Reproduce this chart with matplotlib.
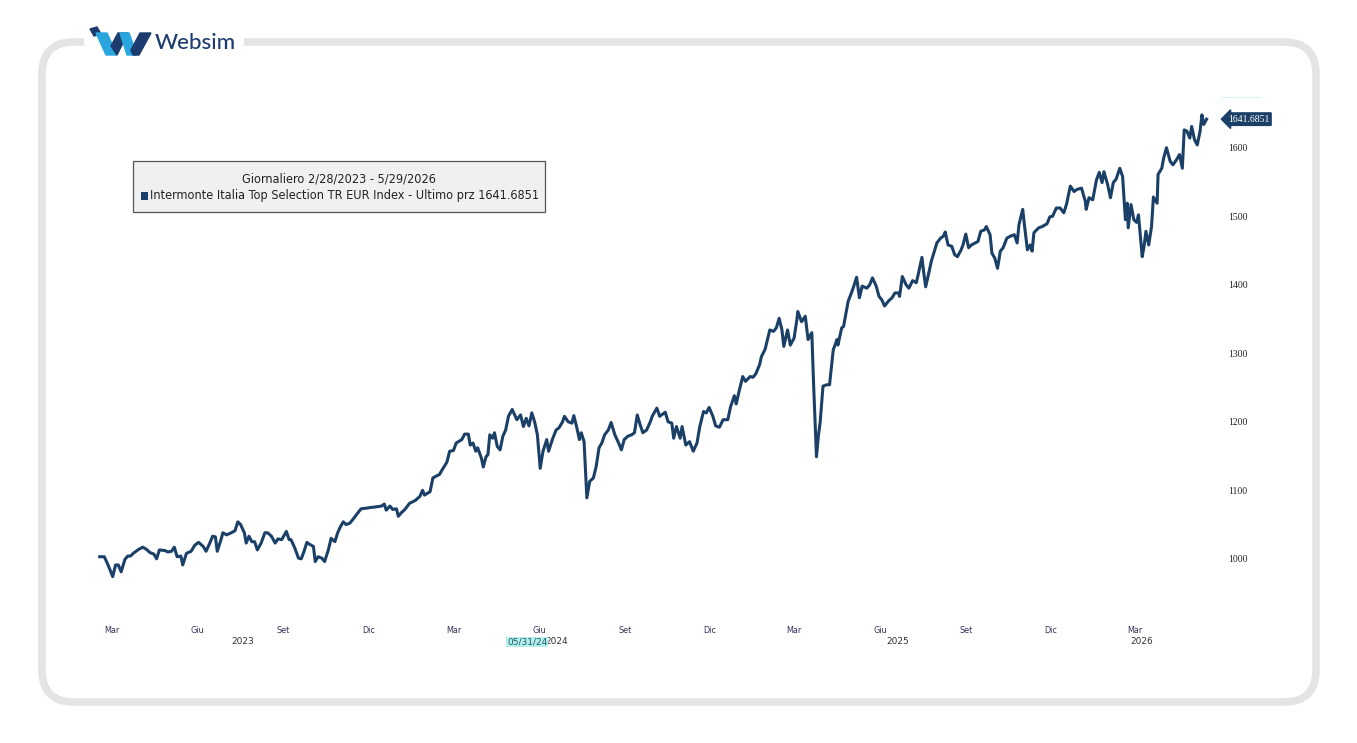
import matplotlib
matplotlib.use('Agg')
import matplotlib.pyplot as plt
import matplotlib.dates as mdates
import matplotlib.transforms as mtrans
from matplotlib.patches import FancyBboxPatch, Rectangle, Polygon
import numpy as np
import pandas as pd

# --- data (days after 2023-02-28, index level) ---
start_date = pd.Timestamp('2023-02-28')
day_offset = [
    0, 5, 9, 12, 14, 17, 20, 23, 27, 30, 33, 36, 41, 46, 50, 54, 58, 61, 64, 70,
    73, 77, 80, 83, 87, 89, 93, 98, 102, 106, 111, 114, 118, 121, 124, 126, 130, 132, 136, 141,
    145, 148, 151, 155, 157, 160, 163, 166, 169, 173, 177, 180, 184, 188, 191, 195, 198, 200, 203, 205,
    209, 213, 216, 219, 222, 224, 229, 231, 234, 238, 241, 245, 248, 252, 255, 258, 261, 264, 268, 271,
    275, 280, 286, 291, 297, 302, 305, 307, 311, 314, 318, 320, 323, 327, 332, 338, 343, 346, 348, 354,
    357, 361, 364, 367, 372, 375, 379, 382, 388, 391, 395, 397, 400, 403, 405, 409, 411, 414, 416, 418,
    421, 423, 426, 429, 432, 435, 438, 442, 447, 451, 454, 457, 460, 463, 466, 469, 472, 475, 479, 481,
    485, 489, 492, 496, 498, 502, 506, 508, 511, 514, 516, 519, 522, 525, 529, 532, 535, 538, 541, 545,
    548, 552, 556, 559, 562, 566, 570, 573, 576, 579, 582, 586, 590, 592, 597, 600, 606, 609, 613, 615,
    618, 622, 624, 628, 632, 636, 640, 643, 647, 650, 653, 657, 660, 664, 668, 673, 676, 680, 682, 685,
    689, 692, 697, 700, 703, 707, 709, 713, 718, 722, 725, 728, 731, 733, 737, 740, 744, 747, 748, 752,
    756, 759, 763, 765, 768, 770, 772, 775, 779, 782, 786, 790, 791, 795, 797, 802, 806, 808, 811, 814,
    817, 822, 825, 828, 832, 835, 838, 841, 845, 849, 852, 856, 857, 860, 864, 867, 871, 875, 877, 881,
    883, 885, 888, 891, 897, 901, 904, 906, 909, 913, 916, 919, 923, 925, 928, 931, 934, 938, 941, 944,
    948, 950, 954, 956, 959, 962, 965, 968, 972, 976, 980, 983, 985, 989,
    991, 994, 997, 999, 1001, 1006, 1010, 1015, 1018, 1021, 1025, 1029, 1033, 1036, 1040, 1044,
    1047, 1052, 1056, 1057, 1060, 1064, 1068, 1071, 1074, 1076, 1080, 1083, 1086, 1089, 1093, 1096, 1099, 1101, 1102, 1105,
    1108, 1111, 1113, 1117, 1119, 1121, 1124, 1127, 1129, 1133, 1134, 1138, 1140, 1143, 1147, 1150, 1154, 1157, 1160, 1162,
    1165, 1168, 1170, 1173, 1176, 1179, 1181, 1183, 1186,
]
index_values = [
    1003, 1003, 991, 981, 974, 991, 991, 981, 999, 1004, 1004, 1008, 1013, 1017, 1014, 1009, 1007, 1000, 1013, 1012,
    1010, 1011, 1017, 1003, 1004, 991, 1008, 1011, 1020, 1024, 1018, 1011, 1023, 1033, 1032, 1011, 1028, 1038, 1035, 1038,
    1041, 1054, 1050, 1038, 1023, 1033, 1025, 1025, 1013, 1023, 1038, 1038, 1033, 1023, 1029, 1028, 1035, 1040, 1028, 1028,
    1016, 1001, 1000, 1011, 1024, 1022, 1018, 996, 1003, 1001, 996, 1013, 1030, 1025, 1038, 1047, 1054, 1050, 1052, 1057,
    1064, 1073, 1074, 1075, 1076, 1077, 1080, 1071, 1077, 1072, 1073, 1062, 1067, 1072, 1081, 1085, 1091, 1100, 1093, 1098,
    1118, 1121, 1123, 1130, 1141, 1157, 1158, 1169, 1174, 1182, 1182, 1166, 1169, 1157, 1162, 1147, 1134, 1149, 1152, 1181,
    1176, 1184, 1164, 1159, 1179, 1188, 1208, 1218, 1203, 1210, 1193, 1205, 1194, 1213, 1200, 1181, 1132, 1157, 1174, 1157,
    1174, 1188, 1191, 1200, 1208, 1200, 1198, 1209, 1193, 1174, 1184, 1171, 1089, 1113, 1118, 1135, 1162, 1169, 1181, 1188,
    1199, 1181, 1169, 1159, 1174, 1179, 1181, 1184, 1210, 1196, 1184, 1188, 1200, 1208, 1220, 1208, 1214, 1200, 1198, 1176,
    1193, 1176, 1193, 1166, 1171, 1157, 1169, 1193, 1215, 1213, 1221, 1208, 1194, 1192, 1203, 1203, 1222, 1238, 1226, 1244,
    1266, 1259, 1266, 1265, 1270, 1283, 1295, 1306, 1334, 1332, 1337, 1351, 1334, 1310, 1334, 1312, 1322, 1349, 1361, 1346,
    1354, 1320, 1330, 1252, 1149, 1179, 1200, 1252, 1254, 1254, 1305, 1320, 1312, 1337, 1339, 1376, 1390, 1398, 1411, 1381,
    1398, 1395, 1400, 1410, 1398, 1383, 1378, 1369, 1376, 1381, 1388, 1388, 1383, 1412, 1400, 1395, 1406, 1403, 1415, 1440,
    1417, 1397, 1415, 1434, 1461, 1468, 1471, 1477, 1458, 1456, 1444, 1441, 1451, 1458, 1474, 1454, 1458, 1461, 1463, 1478,
    1480, 1485, 1473, 1446, 1439, 1424, 1449, 1454, 1468, 1471, 1473, 1461, 1488, 1510,
    1485, 1451, 1458, 1449, 1476, 1483, 1485, 1489, 1499, 1500, 1512, 1512, 1505, 1518, 1544, 1536,
    1539, 1541, 1522, 1510, 1527, 1524, 1553, 1564, 1549, 1565, 1546, 1527, 1549, 1554, 1570, 1558, 1495, 1519, 1483, 1517,
    1495, 1491, 1502, 1441, 1456, 1478, 1458, 1485, 1528, 1519, 1561, 1570, 1585, 1600, 1580, 1575, 1583, 1590, 1570, 1626,
    1624, 1614, 1631, 1612, 1604, 1624, 1648, 1634, 1641.6851,
]
y_ticks = [1000, 1100, 1200, 1300, 1400, 1500, 1600]
month_names = {3: 'Mar', 6: 'Giu', 9: 'Set', 12: 'Dic'}
years = [2023, 2024, 2025, 2026]
title_line = 'Giornaliero 2/28/2023 - 5/29/2026'
series_name = 'Intermonte Italia Top Selection TR EUR Index - Ultimo prz 1641.6851'
cursor_date = pd.Timestamp('2024-05-31')

dates = start_date + pd.to_timedelta(day_offset, unit='D')
last_val = index_values[-1]

W, H = 1357, 743
navy = '#1b4068'
sans = ['DejaVu Sans']
serif = ['Liberation Serif', 'DejaVu Serif']

fig = plt.figure(figsize=(W / 100, H / 100), dpi=100)
fig.patch.set_facecolor('white')

# --- background layer in pixel coordinates ---
bg = fig.add_axes([0, 0, 1, 1])
bg.set_xlim(0, W)
bg.set_ylim(H, 0)
bg.axis('off')
frame = FancyBboxPatch((42, 42), 1274, 660, boxstyle='round,pad=0,rounding_size=32',
                       facecolor='white', edgecolor='#e4e4e4', linewidth=5.5)
bg.add_patch(frame)
bg.add_patch(Rectangle((84, 30), 160, 25, facecolor='white', edgecolor='none'))

# logo
blue_l = '#2aa6df'
navy_l = '#1c3b6e'
bg.add_patch(Polygon([(90, 29), (97, 27), (101, 34), (94, 36)], closed=True, color=navy_l))
bg.add_patch(Polygon([(96, 33), (107, 33), (117, 55), (106, 55)], closed=True, color=blue_l))
bg.add_patch(Polygon([(111, 46), (118, 33), (128, 33), (117, 55)], closed=True, color=navy_l))
bg.add_patch(Polygon([(120, 33), (129, 33), (137, 55), (127, 55)], closed=True, color=blue_l))
bg.add_patch(Polygon([(131, 50), (140, 33), (151, 33), (139, 55), (133, 55)], closed=True, color=navy_l))
bg.text(155, 43, 'Websim', fontsize=16, color=navy_l, family=['Lato', 'DejaVu Sans'],
        ha='left', va='center', fontweight='medium')

# --- chart ---
ax = fig.add_axes([95 / W, 1 - 615 / H, 1120 / W, 518 / H])
ax.patch.set_alpha(0)
ax.plot(dates, index_values, color=navy, linewidth=2.2, solid_joinstyle='round', zorder=3)

xmax = start_date + pd.Timedelta(days=1195)
ax.set_xlim(start_date - pd.Timedelta(days=5), xmax)
ax.set_ylim(918, 1674)
for s in ax.spines.values():
    s.set_visible(False)

ax.yaxis.tick_right()
ax.set_yticks(y_ticks)
ax.set_yticklabels([str(v) for v in y_ticks], fontsize=7, family=serif, color='#222222')
ax.tick_params(axis='y', length=0, pad=9.5)

tick_pos, tick_lab = [], []
for y in years:
    for m, name in month_names.items():
        d = pd.Timestamp(year=y, month=m, day=13)
        if start_date <= d <= start_date + pd.Timedelta(days=1186):
            tick_pos.append(d)
            tick_lab.append(name)
ax.set_xticks(tick_pos)
ax.set_xticklabels(tick_lab, fontsize=6.5, family=sans, fontstretch='condensed', color='#3a2d5c')
ax.tick_params(axis='x', length=0, pad=8)

# year labels centred on the visible part of each year
bt = mtrans.blended_transform_factory(ax.transData, ax.transAxes)
year_y = -(642 - 615) / 518
cursor_num = mdates.date2num(cursor_date)
for y in years:
    if y == cursor_date.year:
        # sits right after the highlighted cursor date
        ax.annotate(str(y), xy=(cursor_num, year_y), xycoords=bt, xytext=(18, 0),
                    textcoords='offset pixels', fontsize=6.5, family=sans, color='#333333',
                    ha='left', va='center')
        continue
    a = max(pd.Timestamp(year=y, month=1, day=1), start_date)
    b = min(pd.Timestamp(year=y, month=12, day=31), xmax)
    mid = a + (b - a) / 2
    ax.text(mdates.date2num(mid), year_y, str(y), transform=bt, fontsize=6.5, family=sans,
            color='#333333', ha='center', va='center')

ax.text(cursor_num, year_y, '05/31/24', transform=bt, fontsize=6.5, family=sans,
        color='#1d5a6c', ha='center', va='center',
        bbox=dict(boxstyle='square,pad=0.1', facecolor='#b4efec', edgecolor='none'), zorder=4)

# last value tag
bt2 = mtrans.blended_transform_factory(ax.transAxes, ax.transData)
ax.text(1 + 13 / 1120, last_val, f'{last_val:.4f}', transform=bt2, fontsize=7, family=serif,
        color='white', ha='left', va='center',
        bbox=dict(boxstyle='larrow,pad=0.18', facecolor=navy, edgecolor=navy))
bg.plot([1222, 1260], [97, 97], color='#d8f4f4', linewidth=0.8)

# legend box
bg.add_patch(Rectangle((133, 161), 412, 51, facecolor='#f0f0f0', edgecolor='#555555', linewidth=0.9))
t_title = bg.text(339, 179, title_line, fontsize=10, family=sans, fontstretch='condensed',
                  color='#222222', ha='center', va='center')
bg.add_patch(Rectangle((141, 192), 7, 8, facecolor=navy, edgecolor='none'))
t_name = bg.text(150, 196, series_name, fontsize=10, family=sans, fontstretch='condensed',
                 color='#222222', ha='left', va='center')

# shrink legend text so the series line fits the box like in the reference
fig.canvas.draw()
r = fig.canvas.get_renderer()
wpx = t_name.get_window_extent(renderer=r).width
scale = 388 / wpx
t_name.set_fontsize(10 * scale)
t_title.set_fontsize(10 * scale)

plt.savefig('out.png', dpi=100, facecolor='white')
